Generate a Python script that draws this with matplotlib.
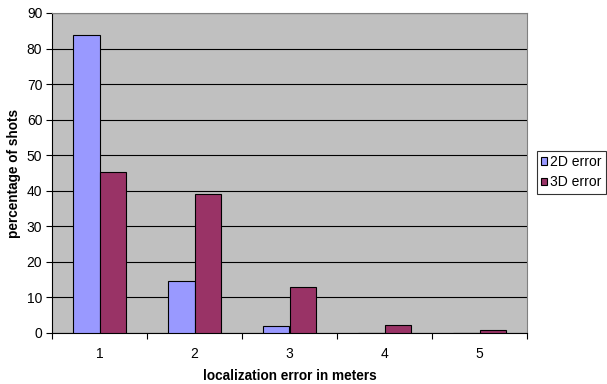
import matplotlib.pyplot as plt
import numpy as np

# values
categories = ['1', '2', '3', '4', '5']
err_2d = [83.7, 14.7, 1.9, 0.0, 0.0]
err_3d = [45.4, 39.0, 12.8, 2.3, 0.8]

plt.rcParams['font.family'] = ['Liberation Sans', 'DejaVu Sans']

fig = plt.figure(figsize=(6.07, 3.84), dpi=100)
ax = fig.add_axes([52/607, 1 - 333/384, 475/607, 320/384])

x = np.arange(len(categories))
w = 0.284
ax.bar(x - w/2, err_2d, w, color='#9999FF', edgecolor='black', linewidth=0.8,
       label='2D error', zorder=3)
ax.bar(x + w/2, err_3d, w, color='#993366', edgecolor='black', linewidth=0.8,
       label='3D error', zorder=3)

ax.set_facecolor('#C0C0C0')
ax.set_xlim(-0.5, len(categories) - 0.5)
ax.set_ylim(0, 90)
ax.set_yticks(range(0, 91, 10))
ax.yaxis.grid(True, color='black', linewidth=0.8, zorder=0)
ax.set_axisbelow(True)

# x ticks sit between categories, labels centred on them
ax.set_xticks(np.arange(-0.5, len(categories)), minor=False)
ax.set_xticklabels([])
ax.set_xticks(x, minor=True)
ax.set_xticklabels(categories, minor=True)
ax.tick_params(axis='x', which='minor', length=0, pad=10, labelsize=10)
ax.tick_params(axis='x', which='major', length=4, direction='out')
ax.tick_params(axis='y', length=4, direction='out', labelsize=10, pad=3)

for s in ['top', 'right']:
    ax.spines[s].set_color('#808080')
ax.spines['left'].set_color('black')
ax.spines['bottom'].set_color('black')

ax.set_xlabel('localization error in meters', fontsize=9.8, fontweight='bold', labelpad=6)
ax.set_ylabel('percentage of shots', fontsize=9.8, fontweight='bold', labelpad=4)

leg = fig.legend(loc='upper left', bbox_to_anchor=(537/607, 1 - 151/384),
                 fontsize=10, frameon=True, fancybox=False, edgecolor='black',
                 handlelength=0.45, handleheight=0.45, handletextpad=0.2,
                 borderpad=0.3, labelspacing=0.45, borderaxespad=0)
leg.get_frame().set_linewidth(0.8)

fig.savefig('out.png', dpi=100, facecolor='white')
